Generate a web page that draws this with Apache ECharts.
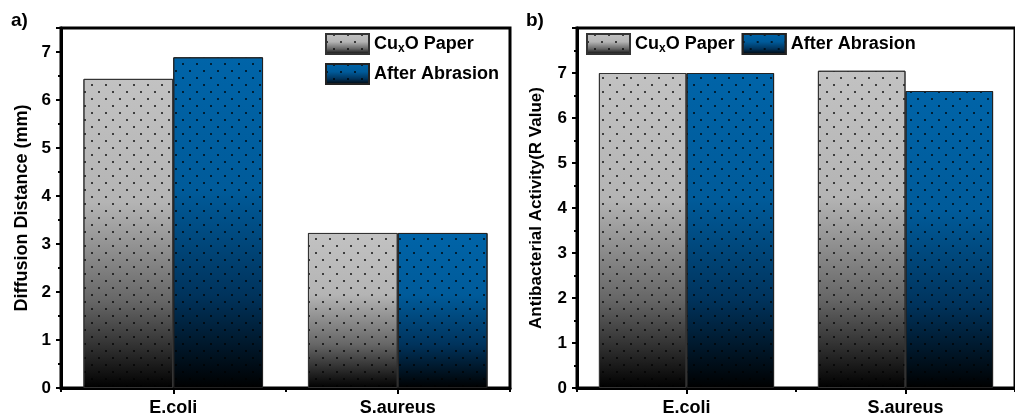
<!DOCTYPE html>
<html><head><meta charset="utf-8">
<script src="https://cdn.jsdelivr.net/npm/echarts@6/dist/echarts.min.js"></script>
<style>html,body{margin:0;padding:0;background:#fff}#c{width:1015px;height:418px}</style>
</head><body><div id="c"></div>
<script>
var categories = ['E.coli', 'S.aureus'];
var seriesNames = ['CuxO Paper', 'After Abrasion'];
var diffusionPaper = [6.44, 3.23];
var diffusionAbrasion = [6.89, 3.23];
var activityPaper = [7.0, 7.05];
var activityAbrasion = [7.0, 6.6];
var yTicksA = [0, 1, 2, 3, 4, 5, 6, 7];
var yTicksB = [0, 1, 2, 3, 4, 5, 6, 7];

var chart = echarts.init(document.getElementById('c'), null, {renderer: 'canvas'});
var FONT = 'Liberation Sans, Arial, sans-serif';

function grad(c0, c1, c2) {
  return new echarts.graphic.LinearGradient(0, 0, 0, 1, [
    {offset: 0, color: c0}, {offset: 0.4, color: c1}, {offset: 0.72, color: c2}, {offset: 1, color: '#000000'}
  ]);
}
var decal = {
  symbol: 'circle', symbolSize: 1, color: 'rgba(0,0,0,0.9)',
  dashArrayX: [[2, 12], [0, 7, 2, 5]], dashArrayY: [2, 5]
};
var grayStyle = {color: grad('#c2c2c2', '#b4b4b4', '#666666'), borderColor: '#333', borderWidth: 1, decal: decal};
var blueStyle = {color: grad('#0064a8', '#005b9a', '#00335c'), borderColor: '#222', borderWidth: 1, decal: decal};

var rich = {
  a: {fontFamily: FONT, fontSize: 18, fontWeight: 'bold', color: '#000'},
  s: {fontFamily: FONT, fontSize: 12, fontWeight: 'bold', color: '#000', padding: [10, 0, 0, 0]}
};
function legendFmt(n) { return n === 'CuxO Paper' ? '{a|Cu}{s|x}{a|O Paper}' : '{a|' + n + '}'; }

function yAxis(gi, max, name, gap, ticks, nameSize) {
  return {
    type: 'value', gridIndex: gi, min: 0, max: max, interval: 1,
    name: name, nameLocation: 'middle', nameGap: gap,
    nameTextStyle: {fontFamily: FONT, fontSize: nameSize, fontWeight: 'bold', color: '#000'},
    axisLine: {show: true, lineStyle: {color: '#000', width: 3}},
    axisTick: {show: true, length: 5, lineStyle: {color: '#000', width: 2}},
    minorTick: {show: true, splitNumber: 2, length: 3, lineStyle: {color: '#000', width: 2}},
    splitLine: {show: false},
    axisLabel: {fontFamily: FONT, fontSize: 17, fontWeight: 'bold', color: '#000', margin: 10,
      formatter: function (v) { return ticks.indexOf(v) >= 0 ? String(v) : ''; }}
  };
}
function xAxis(gi) {
  return {
    type: 'category', gridIndex: gi, data: categories,
    axisLine: {show: true, lineStyle: {color: '#000', width: 3}},
    axisTick: {show: true, alignWithLabel: true, length: 6, lineStyle: {color: '#000', width: 2}},
    axisLabel: {fontFamily: FONT, fontSize: 18, fontWeight: 'bold', color: '#000', margin: 11}
  };
}
function xAxisMinor(gi) {
  return {
    type: 'category', gridIndex: gi, data: categories, position: 'bottom',
    axisLine: {show: false}, axisLabel: {show: false},
    axisTick: {show: true, length: 4, interval: 0, lineStyle: {color: '#000', width: 2}}
  };
}

var option = {
  animation: false,
  textStyle: {fontFamily: FONT},
  grid: [
    {left: 61, top: 28, width: 449, bottom: 30, show: true, borderColor: '#000', borderWidth: 3},
    {left: 577, top: 28, width: 449, bottom: 30, show: true, borderColor: '#000', borderWidth: 3}
  ],
  xAxis: [xAxis(0), xAxis(1), xAxisMinor(0), xAxisMinor(1)],
  yAxis: [
    yAxis(0, 7.5, 'Diffusion Distance (mm)', 30, yTicksA, 18),
    yAxis(1, 8, 'Antibacterial Activity(R Value)', 32, yTicksB, 17)
  ],
  legend: [
    {data: seriesNames, orient: 'vertical', left: 325, top: 33, padding: 0, itemWidth: 43, itemHeight: 20, itemGap: 8,
      icon: 'rect', formatter: legendFmt, textStyle: {rich: rich}},
    {data: seriesNames, orient: 'horizontal', left: 586, top: 33, padding: 0, itemWidth: 43, itemHeight: 20, itemGap: 7,
      icon: 'rect', formatter: legendFmt, textStyle: {rich: rich}}
  ],
  graphic: [
    {type: 'text', left: 11, top: 11, style: {text: 'a)', font: 'bold 19px ' + FONT, fill: '#000'}},
    {type: 'text', left: 526, top: 11, style: {text: 'b)', font: 'bold 19px ' + FONT, fill: '#000'}}
  ],
  series: [
    {name: seriesNames[0], type: 'bar', xAxisIndex: 0, yAxisIndex: 0, data: diffusionPaper,
      barGap: '0%', barCategoryGap: '20%', itemStyle: grayStyle},
    {name: seriesNames[1], type: 'bar', xAxisIndex: 0, yAxisIndex: 0, data: diffusionAbrasion,
      barGap: '0%', barCategoryGap: '20%', itemStyle: blueStyle},
    {name: seriesNames[0], type: 'bar', xAxisIndex: 1, yAxisIndex: 1, data: activityPaper,
      barGap: '0%', barCategoryGap: '20%', itemStyle: grayStyle},
    {name: seriesNames[1], type: 'bar', xAxisIndex: 1, yAxisIndex: 1, data: activityAbrasion,
      barGap: '0%', barCategoryGap: '20%', itemStyle: blueStyle}
  ]
};
chart.setOption(option);
</script></body></html>
